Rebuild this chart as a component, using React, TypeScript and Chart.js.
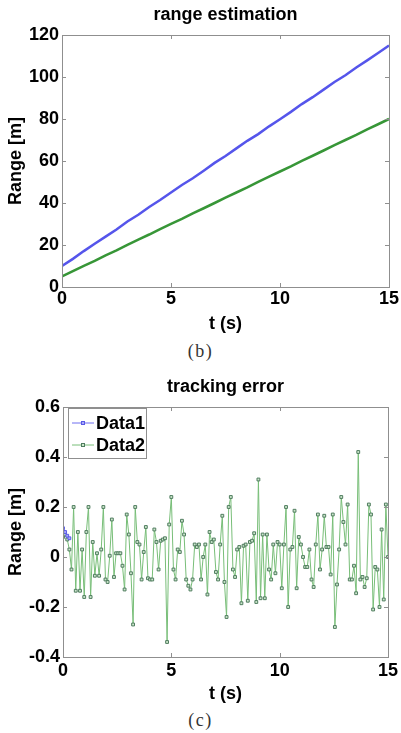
import React, { useEffect, useRef } from 'react';
import { Chart, registerables } from 'chart.js';
Chart.register(...registerables);

// ---- chart (b): range estimation ----
const rangeTitle = 'range estimation';
const rangeStep = 0.5; // s between samples
const rangeBlue = [
  10, 13.4, 17.1, 20.6, 24.0, 27.4, 31.2, 34.4, 38.1, 41.4, 45.0,
  48.6, 51.8, 55.4, 59.1, 62.4, 66.0, 69.6, 72.8, 76.5, 79.9,
  83.4, 87.1, 90.4, 94.0, 97.6, 100.8, 104.5, 107.9, 111.4, 115.0,
];
const rangeGreen = [
  5, 7.6, 10.1, 12.4, 15.1, 17.4, 20.1, 22.6, 25.0, 27.6, 30.1,
  32.4, 35.1, 37.5, 40.0, 42.6, 45.0, 47.4, 50.1, 52.6, 55.0,
  57.4, 60.1, 62.5, 65.0, 67.6, 70.0, 72.4, 75.1, 77.5, 80.0,
];
const rangeXTicks = [0, 5, 10, 15];
const rangeYTicks = [0, 20, 40, 60, 80, 100, 120];

// ---- chart (c): tracking error ----
const errTitle = 'tracking error';
const errStep = 15 / 153; // s between samples
const errLabels = ['Data1', 'Data2'];
const errData1 = [0.115, 0.1, 0.085, 0.075];
const errData2 = [
  0.08, 0.09, 0.07, 0.03, -0.05, 0.20, -0.135, 0.10, -0.135, 0.03,
  -0.16, 0.10, 0.20, -0.16, 0.06, -0.075, 0.015, -0.075, 0.03, 0.20,
  -0.09, -0.10, 0.005, 0.15, -0.08, 0.015, 0.015, 0.015, -0.035, -0.13,
  0.17, 0.09, -0.065, -0.27, 0.20, 0.06, 0.05, -0.09, 0.02, 0.12,
  -0.085, -0.09, -0.09, 0.11, 0.06, -0.05, 0.065, 0.07, 0.075, -0.34,
  0.13, 0.24, -0.05, -0.09, 0.03, 0.02, 0.145, 0.09, -0.09, -0.115,
  -0.13, -0.09, 0.05, 0.04, 0.05, -0.09, 0.0, 0.05, -0.15, 0.10,
  0.06, 0.07, -0.06, -0.09, 0.05, 0.165, -0.10, -0.24, 0.20, 0.24,
  -0.05, -0.08, 0.03, 0.04, -0.185, 0.045, 0.05, -0.175, 0.06, 0.065,
  0.095, -0.18, 0.31, -0.165, 0.09, -0.165, 0.09, -0.05, -0.09, 0.05,
  -0.065, 0.06, 0.05, -0.125, 0.05, 0.20, -0.20, 0.03, 0.04, 0.185,
  -0.125, 0.08, 0.05, 0.0, -0.04, -0.04, 0.03, -0.09, -0.12, 0.05,
  0.17, -0.05, 0.03, 0.165, 0.04, 0.04, -0.07, 0.17, -0.28, -0.11,
  0.03, 0.24, 0.14, 0.05, 0.21, -0.09, -0.09, -0.035, -0.145, 0.42,
  -0.09, -0.08, -0.12, -0.085, 0.21, 0.17, -0.21, -0.04, -0.05, -0.20,
  0.11, -0.17, 0.21, 0.0,
];
const errXTicks = [0, 5, 10, 15];
const errYTicks = [-0.4, -0.2, 0, 0.2, 0.4, 0.6];
const errYTickLabels = ['-0.4', '-0.2', '0', '0.2', '0.4', '0.6'];

const FONT = "'Liberation Sans', Arial, Helvetica, sans-serif";

const boxPlugin = {
  id: 'matlabBox',
  afterDraw(chart: any) {
    const { ctx, chartArea: a, scales } = chart;
    ctx.save();
    ctx.strokeStyle = '#8f8f8f';
    ctx.lineWidth = 1;
    ctx.strokeRect(Math.round(a.left) + 0.5, Math.round(a.top) + 0.5, Math.round(a.right - a.left), Math.round(a.bottom - a.top));
    const tl = 4;
    ctx.beginPath();
    scales.x.ticks.forEach((t: any) => {
      const px = Math.round(scales.x.getPixelForValue(t.value)) + 0.5;
      ctx.moveTo(px, a.bottom); ctx.lineTo(px, a.bottom - tl);
      ctx.moveTo(px, a.top); ctx.lineTo(px, a.top + tl);
    });
    scales.y.ticks.forEach((t: any) => {
      const py = Math.round(scales.y.getPixelForValue(t.value)) + 0.5;
      ctx.moveTo(a.left, py); ctx.lineTo(a.left + tl, py);
      ctx.moveTo(a.right, py); ctx.lineTo(a.right - tl, py);
    });
    ctx.stroke();
    ctx.restore();
  },
};

const legendPlugin = {
  id: 'insideLegend',
  afterDraw(chart: any) {
    if (!chart.options.plugins.insideLegend?.show) return;
    const { ctx, chartArea: a } = chart;
    const x0 = a.left + 5, y0 = a.top + 1, w = 78, h = 50;
    ctx.save();
    ctx.fillStyle = '#ffffff';
    ctx.fillRect(x0, y0, w, h);
    ctx.strokeStyle = '#8f8f8f';
    ctx.lineWidth = 1;
    ctx.strokeRect(Math.round(x0) + 0.5, Math.round(y0) + 0.5, w, h);
    chart.data.datasets.forEach((ds: any, i: number) => {
      const cy = y0 + 15 + i * 22;
      ctx.strokeStyle = ds.borderColor;
      ctx.lineWidth = 1;
      ctx.beginPath();
      ctx.moveTo(x0 + 4, cy); ctx.lineTo(x0 + 26, cy);
      ctx.stroke();
      ctx.fillStyle = ds.pointBackgroundColor;
      ctx.strokeStyle = ds.pointBorderColor;
      ctx.fillRect(x0 + 13.5, cy - 1.5, 3, 3);
      ctx.strokeRect(x0 + 13.5, cy - 1.5, 3, 3);
      ctx.fillStyle = '#000';
      ctx.font = `bold 18px ${FONT}`;
      ctx.textBaseline = 'middle';
      ctx.textAlign = 'left';
      ctx.fillText(ds.label, x0 + 28, cy + 1);
    });
    ctx.restore();
  },
};

function makeOptions(p: any) {
  const font = { family: FONT, size: 18, weight: 'bold' as const, lineHeight: 1.2 };
  return {
    animation: false,
    responsive: false,
    devicePixelRatio: 1,
    layout: { padding: { left: 0, right: 12, top: 0, bottom: 0 } },
    plugins: {
      legend: { display: false },
      tooltip: { enabled: false },
      title: {
        display: true,
        text: p.title,
        fullSize: false,
        color: '#000',
        font,
        padding: { top: p.titleTop, bottom: p.titleBottom },
      },
      insideLegend: { show: p.legend },
    },
    scales: {
      x: {
        type: 'linear',
        min: 0,
        max: 15,
        grid: { display: false, drawTicks: false },
        border: { display: false },
        afterBuildTicks: (s: any) => { s.ticks = p.xTicks.map((v: number) => ({ value: v })); },
        afterFit: (s: any) => { s.height = 48; },
        ticks: { color: '#000', font, padding: p.xPad, maxRotation: 0, autoSkip: false },
        title: { display: true, text: 't (s)', color: '#000', font, padding: { top: 0, bottom: 0 } },
      },
      y: {
        type: 'linear',
        min: p.yMin,
        max: p.yMax,
        grid: { display: false, drawTicks: false },
        border: { display: false },
        afterBuildTicks: (s: any) => { s.ticks = p.yTicks.map((v: number) => ({ value: v })); },
        afterFit: (s: any) => { s.width = p.yWidth; },
        ticks: {
          color: '#000',
          font,
          padding: 3,
          autoSkip: false,
          callback: (v: number) => {
            const idx = p.yTicks.indexOf(v);
            return p.yLabels ? p.yLabels[idx] : String(v);
          },
        },
        title: { display: true, text: 'Range [m]', color: '#000', font, padding: { top: 5, bottom: 0 } },
      },
    },
  };
}

export default function App() {
  const c1 = useRef<HTMLCanvasElement>(null);
  const c2 = useRef<HTMLCanvasElement>(null);

  useEffect(() => {
    const ch1 = new Chart(c1.current!, {
      type: 'line',
      data: {
        datasets: [
          {
            label: 'Data1',
            data: rangeBlue.map((y, i) => ({ x: i * rangeStep, y })),
            borderColor: 'rgb(85,85,235)',
            borderWidth: 2.5,
            pointRadius: 0,
            tension: 0,
          },
          {
            label: 'Data2',
            data: rangeGreen.map((y, i) => ({ x: i * rangeStep, y })),
            borderColor: 'rgb(55,150,55)',
            borderWidth: 2.5,
            pointRadius: 0,
            tension: 0,
          },
        ],
      },
      options: makeOptions({
        title: rangeTitle, titleTop: 4, titleBottom: 9.4, legend: false,
        xTicks: rangeXTicks, yTicks: rangeYTicks, yMin: 0, yMax: 120, yWidth: 62, xPad: 1,
      }) as any,
      plugins: [boxPlugin, legendPlugin],
    });

    const ch2 = new Chart(c2.current!, {
      type: 'line',
      data: {
        datasets: [
          {
            label: errLabels[0],
            data: errData1.map((y, i) => ({ x: i * errStep, y })),
            borderColor: 'rgb(110,110,240)',
            pointBackgroundColor: 'rgb(170,170,250)',
            pointBorderColor: 'rgb(90,90,230)',
            pointStyle: 'rect',
            pointRadius: 2,
            borderWidth: 1,
            tension: 0,
          },
          {
            label: errLabels[1],
            data: errData2.map((y, i) => ({ x: i * errStep, y })),
            borderColor: 'rgb(120,190,120)',
            pointBackgroundColor: 'rgb(205,230,205)',
            pointBorderColor: 'rgb(80,125,95)',
            pointStyle: 'rect',
            pointRadius: 2,
            pointBorderWidth: 1,
            borderWidth: 1,
            tension: 0,
          },
        ],
      },
      options: makeOptions({
        title: errTitle, titleTop: 16, titleBottom: 9.4, legend: true,
        xTicks: errXTicks, yTicks: errYTicks, yLabels: errYTickLabels, yMin: -0.4, yMax: 0.6, yWidth: 63, xPad: 3,
      }) as any,
      plugins: [boxPlugin, legendPlugin],
    });

    return () => { ch1.destroy(); ch2.destroy(); };
  }, []);

  const caption: React.CSSProperties = {
    position: 'absolute', left: 0, width: 401, textAlign: 'center',
    fontFamily: "'Liberation Serif', 'DejaVu Serif', serif", fontSize: 18, lineHeight: '20px',
    letterSpacing: '1.5px', color: '#333',
  };

  return (
    <div style={{ position: 'absolute', left: 0, top: 0, width: 401, height: 733, background: '#fff', overflow: 'hidden' }}>
      <canvas ref={c1} width={401} height={335} style={{ position: 'absolute', left: 0, top: 0, display: 'block' }} />
      <div style={{ ...caption, top: 341 }}>(b)</div>
      <canvas ref={c2} width={401} height={345} style={{ position: 'absolute', left: 0, top: 360, display: 'block' }} />
      <div style={{ ...caption, top: 710 }}>(c)</div>
    </div>
  );
}
